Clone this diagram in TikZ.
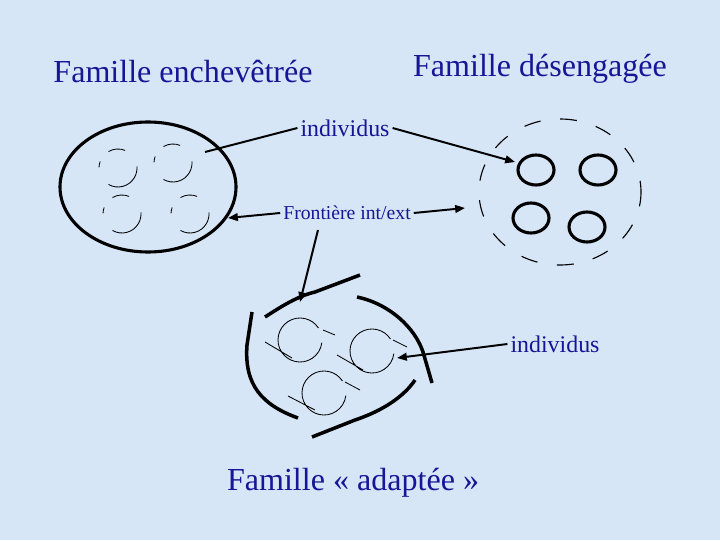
\documentclass[tikz,border=0pt]{standalone}
\usepackage{xcolor}
\usepackage{fontspec}
\setmainfont{Liberation Serif}
\usetikzlibrary{arrows.meta}

\definecolor{bgblue}{RGB}{214,230,246}
\definecolor{textblue}{RGB}{22,22,150}

\begin{document}
\begin{tikzpicture}[x=0.025cm,y=0.025cm]
        % Define styles
        \tikzset{
            famtitle/.style={text=textblue, font=\fontsize{22.8}{27}\selectfont},
            labeltext/.style={text=textblue, font=\fontsize{17}{20}\selectfont, inner sep=2pt},
            smalltext/.style={text=textblue, font=\fontsize{14}{17}\selectfont, inner sep=2pt},
            boundary/.style={line width=2.2pt},
            member/.style={line width=2.2pt},
            faint/.style={line width=0.6pt},
            looseline/.style={line width=0.8pt, dash pattern=on 12pt off 14pt, dash phase=4pt},
            plainline/.style={line width=1.4pt},
            arrow/.style={-{Triangle[length=7pt,width=5.5pt]}, line width=1.4pt}
        }

        % Background
        \fill[bgblue] (0,0) rectangle (720,540);
        \useasboundingbox (0,0) rectangle (720,540);

        % Titles
        \node[famtitle] (title_tangled) at (183,468) {Famille enchevêtrée};
        \node[famtitle] (title_disengaged) at (540,471) {Famille désengagée};
        \node[famtitle] (title_adapted) at (353,57) {Famille « adaptée »};

        % Labels
        \node[labeltext] (indiv_top) at (345,412) {individus};
        \node[labeltext] (indiv_bottom) at (555,196) {individus};
        \node[smalltext] (border_label) at (347,327) {Frontière int/ext};

        % Famille enchevetree
        \draw[boundary] (148,353) ellipse [x radius=88, y radius=65];
        \draw[faint] (118,372) ++(68:19) arc[start angle=68, end angle=120, radius=19]
                     (118,372) ++(160:19) arc[start angle=160, end angle=178, radius=19]
                     (118,372) ++(240:19) arc[start angle=240, end angle=365, radius=19];
        \draw[faint] (173,377) ++(68:19) arc[start angle=68, end angle=120, radius=19]
                     (173,377) ++(160:19) arc[start angle=160, end angle=178, radius=19]
                     (173,377) ++(240:19) arc[start angle=240, end angle=365, radius=19];
        \draw[faint] (122,326) ++(68:19) arc[start angle=68, end angle=120, radius=19]
                     (122,326) ++(160:19) arc[start angle=160, end angle=178, radius=19]
                     (122,326) ++(240:19) arc[start angle=240, end angle=365, radius=19];
        \draw[faint] (190,326) ++(68:19) arc[start angle=68, end angle=120, radius=19]
                     (190,326) ++(160:19) arc[start angle=160, end angle=178, radius=19]
                     (190,326) ++(240:19) arc[start angle=240, end angle=365, radius=19];

        % Famille desengagee
        \draw[looseline] (560,348) ellipse [x radius=81, y radius=73];
        \draw[member] (536,370) ellipse [x radius=18, y radius=15];
        \draw[member] (598,370) ellipse [x radius=18, y radius=15];
        \draw[member] (531,322) ellipse [x radius=18, y radius=15];
        \draw[member] (587,313) ellipse [x radius=18, y radius=15];

        % Famille adaptee
        \draw[boundary, line width=2.5pt] (265,223) .. controls (282,234) and (298,244) .. (315,248) -- (360,265);
        \draw[boundary, line width=2.5pt] (357,243) .. controls (390,236) and (415,212) .. (423,188) -- (432,157);
        \draw[boundary, line width=2.5pt] (252,228) -- (247,195) .. controls (244,155) and (262,135) .. (298,122);
        \draw[boundary, line width=2.5pt] (312,103) -- (355,120) .. controls (385,130) and (405,145) .. (415,160);
        \draw[faint] (300,200) ++(33:22) arc[start angle=33, end angle=353, radius=22]
                     (265,198) -- (292,182) (323,210) -- (335,205);
        \draw[faint] (372,189) ++(33:22) arc[start angle=33, end angle=353, radius=22]
                     (337,185) -- (363,170) (393,200) -- (407,193);
        \draw[faint] (324,147) ++(33:22) arc[start angle=33, end angle=353, radius=22]
                     (288,144) -- (315,130) (345,158) -- (360,150);

        % Arrow ends
        \coordinate (tangled_inside) at (205,388);
        \coordinate (disengaged_member) at (515,378);
        \coordinate (tangled_border) at (228,322);
        \coordinate (disengaged_border) at (465,332);
        \coordinate (down_start) at (318,310);
        \coordinate (adapted_border) at (300,238);
        \coordinate (adapted_member) at (397,182);

        % Arrows
        \draw[plainline] (indiv_top.west) -- (tangled_inside);
        \draw[arrow] (indiv_top.east) -- (disengaged_member);
        \draw[arrow] (border_label.west) -- (tangled_border);
        \draw[arrow] (border_label.east) -- (disengaged_border);
        \draw[arrow] (down_start) -- (adapted_border);
        \draw[arrow] (indiv_bottom.west) -- (adapted_member);
    \end{tikzpicture}
\end{document}
